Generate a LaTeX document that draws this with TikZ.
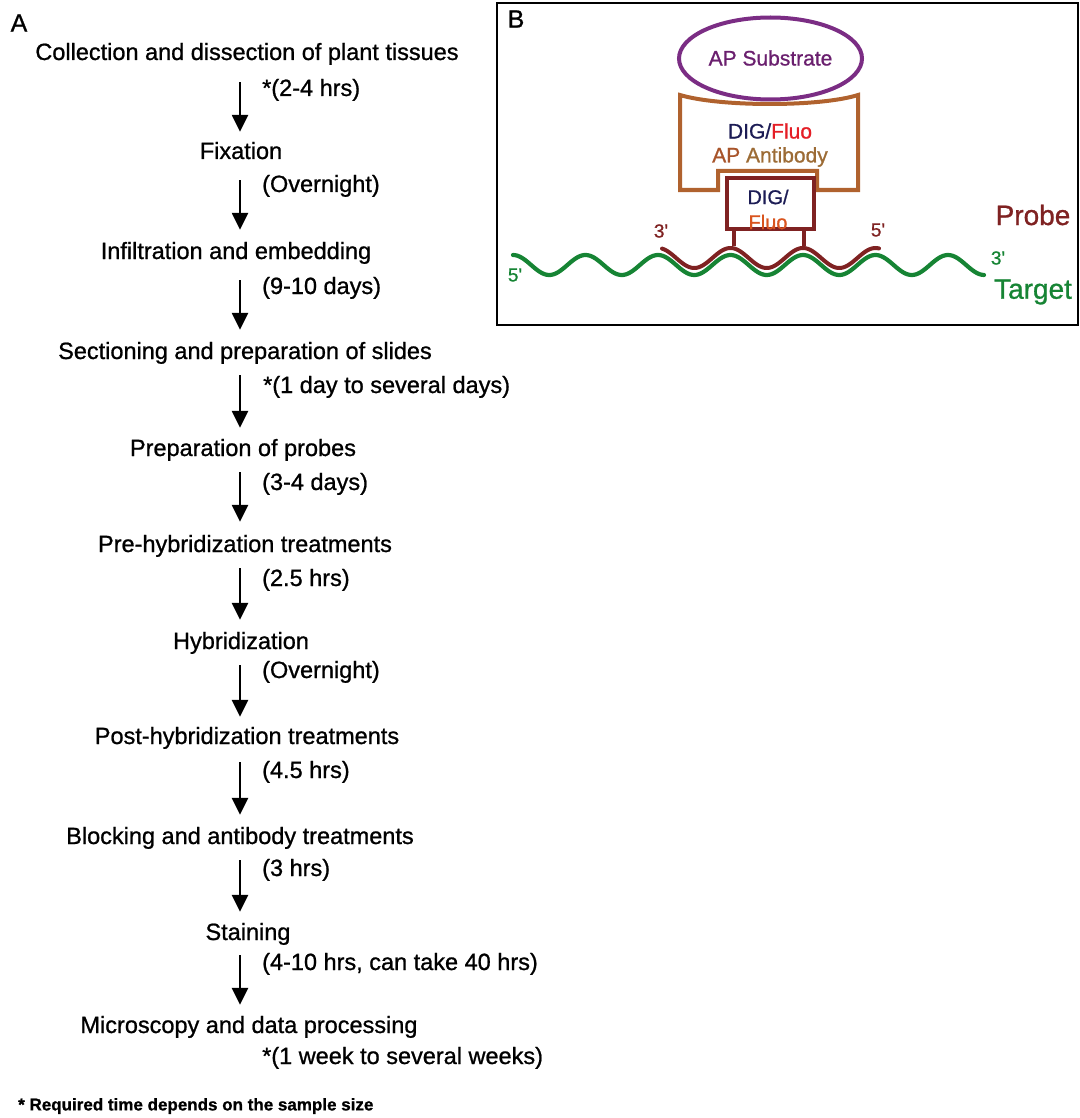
\documentclass[tikz,border=0pt]{standalone}
\usepackage{fontspec}
\setmainfont{Liberation Sans}[FakeBold=0.9]
\usetikzlibrary{arrows.meta,calc}
\definecolor{subpurple}{HTML}{7B2D84}
\definecolor{subtext}{HTML}{6A1F6E}
\definecolor{abcol}{HTML}{B0622E}
\definecolor{abtext}{HTML}{A8542A}
\definecolor{abtext2}{HTML}{9C6B35}
\definecolor{navy}{HTML}{1C1C55}
\definecolor{fluored}{HTML}{E41E26}
\definecolor{fluoorange}{HTML}{D9541E}
\definecolor{probecol}{HTML}{7F2222}
\definecolor{targetcol}{HTML}{168434}
\begin{document}
\begin{tikzpicture}[x=1pt,y=-1pt,
  stepnode/.style={font=\fontsize{23.5}{28}\selectfont, inner sep=0pt, text height=17pt, text depth=5pt},
  timenode/.style={stepnode, anchor=west},
  arr/.style={line width=2.5pt, -{Triangle[width=16pt,length=17pt]}},
  panellab/.style={font=\fontsize{25}{28}\selectfont, inner sep=0pt},
  frame/.style={line width=2.5pt, draw=black},
  abline/.style={line width=4pt, draw=abcol, line join=miter},
  pbline/.style={line width=4pt, draw=probecol},
  tgline/.style={line width=4.2pt, draw=targetcol},
  btext/.style={font=\fontsize{21}{24}\selectfont, inner sep=0pt},
  endlab/.style={font=\fontsize{19}{22}\selectfont, inner sep=0pt},
  biglab/.style={font=\fontsize{28}{32}\selectfont, inner sep=0pt}
]
\useasboundingbox (0,0) rectangle (1079,1118);

% ---------------- Panel A ----------------
\node[panellab] (labA) at (19,23) {A};
\coordinate (ax) at (240,0);

\node[stepnode] (s1) at (247,54) {Collection and dissection of plant tissues};
\node[stepnode] (s2) at (241,153) {Fixation};
\node[stepnode] (s3) at (236,253) {Infiltration and embedding};
\node[stepnode] (s4) at (245,353) {Sectioning and preparation of slides};
\node[stepnode] (s5) at (243,450) {Preparation of probes};
\node[stepnode] (s6) at (245,546) {Pre-hybridization treatments};
\node[stepnode] (s7) at (241,643) {Hybridization};
\node[stepnode] (s8) at (247,738) {Post-hybridization treatments};
\node[stepnode] (s9) at (240,838) {Blocking and antibody treatments};
\node[stepnode] (s10) at (248,934) {Staining};
\node[stepnode] (s11) at (249,1027) {Microscopy and data processing};

\foreach \a/\b/\p/\q in {s1/s2/17pt/10pt, s2/s3/16pt/12pt, s3/s4/16pt/12pt,
  s4/s5/11pt/11pt, s5/s6/11pt/13pt, s6/s7/11pt/12pt, s7/s8/11pt/10pt,
  s8/s9/13pt/12pt, s9/s10/11pt/11pt, s10/s11/10pt/11pt}
  \draw[arr, shorten <=\p, shorten >=\q] (\a.south -| ax) -- (\b.north -| ax);

\node[timenode] (t1) at (262,90) {*(2-4 hrs)};
\node[timenode] (t2) at (262,186) {(Overnight)};
\node[timenode] (t3) at (262,288) {(9-10 days)};
\node[timenode] (t4) at (263,387) {*(1 day to several days)};
\node[timenode] (t5) at (262,484) {(3-4 days)};
\node[timenode] (t6) at (262,580) {(2.5 hrs)};
\node[timenode] (t7) at (262,672) {(Overnight)};
\node[timenode] (t8) at (262,772) {(4.5 hrs)};
\node[timenode] (t9) at (262,870) {(3 hrs)};
\node[timenode] (t10) at (262,964) {(4-10 hrs, can take 40 hrs)};
\node[timenode] (t11) at (262,1058) {*(1 week to several weeks)};

\node[anchor=west, inner sep=0pt, font=\bfseries\fontsize{17}{20}\selectfont] (foot) at (18,1106) {* Required time depends on the sample size};

% ---------------- Panel B ----------------
\draw[frame] (497,3) rectangle (1078,325);
\node[panellab] (labB) at (516,19) {B};

% antibody
\draw[abline] (680,95) -- (680,190) -- (718,190) -- (718,171) -- (817,171) -- (817,190) -- (858,190) -- (858,95)
  .. controls (820,107) and (720,107) .. cycle;

% DIG/Fluo label box
\draw[pbline] (727,178) rectangle (814,229);
\draw[pbline] (734,229) -- (734,246);
\draw[pbline] (804,229) -- (804,246);

% target and probe
\draw[tgline, line cap=round] plot[domain=513:984, samples=240, smooth] (\x, {265 - 10*cos(4.965517*(\x-513))});
\draw[pbline, line cap=round] plot[domain=662:879, samples=120, smooth] (\x, {258 - 10*cos(4.965517*(\x-513))});

% substrate
\draw[line width=4pt, draw=subpurple] (770.5,58.5) ellipse [x radius=91.5pt, y radius=41pt];
\node[btext, text=subtext] (subst) at (770.5,58) {AP Substrate};

\node[btext] (digab) at (770,131) {\textcolor{navy}{DIG/}\textcolor{fluored}{Fluo}};
\node[btext] (apab) at (770,157) {\textcolor{abtext}{AP} \textcolor{abtext2}{Antibody}};
\node[btext, font=\fontsize{20}{22}\selectfont, text=navy] (dig2) at (768,197) {DIG/};
\node[btext, font=\fontsize{20}{22}\selectfont, text=fluoorange] (fluo2) at (768,222) {Fluo};

\node[endlab, text=probecol] (p3) at (661,231) {3\textquotesingle};
\node[endlab, text=probecol] (p5) at (878,230) {5\textquotesingle};
\node[endlab, text=targetcol] (t5p) at (515,275) {5\textquotesingle};
\node[endlab, text=targetcol] (t3p) at (998,258) {3\textquotesingle};
\node[biglab, text=probecol] (probe) at (1033,215) {Probe};
\node[biglab, text=targetcol] (target) at (1033,292) {Target};
\end{tikzpicture}
\end{document}
